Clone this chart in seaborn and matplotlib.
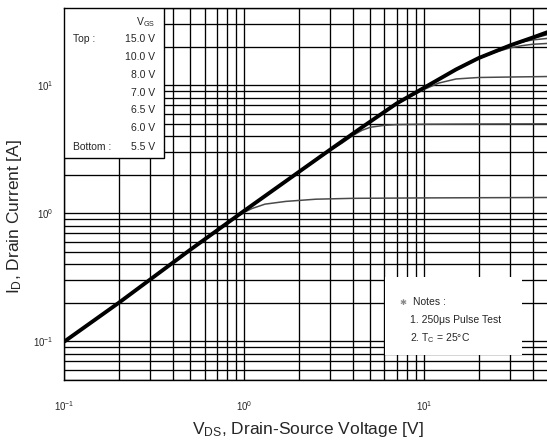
import numpy as np
import pandas as pd
import matplotlib
matplotlib.use("Agg")
import matplotlib.pyplot as plt
import seaborn as sns

# Gate-source voltage settings (top to bottom of the legend)
vgs_labels = ["15.0 V", "10.0 V", "8.0 V", "7.0 V", "6.5 V", "6.0 V", "5.5 V"]

# Output characteristics: drain-source voltage [V] and drain current [A]
vds_15 = [0.1, 0.2, 0.5, 1.0, 2.0, 3.0, 4.5, 7.0, 10.0, 15.0, 20.0, 30.0, 40.0, 48.0, 60.0]
id_15 = [0.1, 0.2, 0.52, 1.05, 2.1, 3.15, 4.7, 7.2, 9.6, 13.3, 16.3, 20.5, 23.6, 25.9, 28.0]

vds_10 = [0.1, 0.2, 0.5, 1.0, 2.0, 3.0, 4.5, 7.0, 10.0, 15.0, 20.0, 30.0, 40.0, 48.0, 60.0]
id_10 = [0.1, 0.2, 0.52, 1.05, 2.1, 3.15, 4.7, 7.2, 9.6, 13.3, 16.3, 20.5, 23.3, 25.0, 26.2]

vds_8 = [0.1, 0.2, 0.5, 1.0, 2.0, 3.0, 4.5, 7.0, 10.0, 15.0, 20.0, 28.0, 35.0, 40.0, 48.0, 60.0]
id_8 = [0.1, 0.2, 0.52, 1.05, 2.1, 3.15, 4.7, 7.2, 9.6, 13.3, 16.3, 19.9, 21.8, 22.6, 23.2, 23.6]

vds_7 = [0.1, 0.2, 0.5, 1.0, 2.0, 3.0, 4.5, 7.0, 10.0, 15.0, 20.0, 25.0, 30.0, 35.0, 40.0, 48.0, 60.0]
id_7 = [0.1, 0.2, 0.52, 1.05, 2.1, 3.15, 4.7, 7.2, 9.6, 13.3, 16.2, 18.2, 19.6, 20.4, 20.9, 21.2, 21.4]

vds_65 = [0.1, 0.2, 0.5, 1.0, 2.0, 3.0, 4.5, 7.0, 8.0, 9.0, 10.0, 12.0, 15.0, 20.0, 30.0, 48.0, 60.0]
id_65 = [0.1, 0.2, 0.52, 1.05, 2.1, 3.15, 4.7, 7.1, 7.9, 8.6, 9.3, 10.4, 11.2, 11.5, 11.6, 11.7, 11.7]

vds_60 = [0.1, 0.2, 0.5, 1.0, 2.0, 3.0, 3.5, 4.0, 4.5, 5.0, 6.0, 7.0, 10.0, 20.0, 48.0, 60.0]
id_60 = [0.1, 0.2, 0.52, 1.05, 2.1, 3.1, 3.55, 4.05, 4.45, 4.7, 4.87, 4.93, 4.96, 4.98, 5.0, 5.0]

vds_55 = [0.1, 0.2, 0.5, 0.9, 1.0, 1.1, 1.3, 1.7, 2.5, 4.0, 10.0, 48.0, 60.0]
id_55 = [0.1, 0.2, 0.52, 0.94, 1.02, 1.09, 1.18, 1.24, 1.29, 1.31, 1.32, 1.33, 1.33]

curves = [
    (vds_15, id_15), (vds_10, id_10), (vds_8, id_8), (vds_7, id_7),
    (vds_65, id_65), (vds_60, id_60), (vds_55, id_55),
]

# Labelled decades
x_decades = [0.1, 1.0, 10.0]
x_tick_labels = [r"$10^{-1}$", r"$10^{0}$", r"$10^{1}$"]
y_decades = [0.1, 1.0, 10.0]
y_tick_labels = [r"$10^{-1}$", r"$10^{0}$", r"$10^{1}$"]

sns.set_style("white")
plt.rcParams["font.family"] = ["Liberation Sans", "DejaVu Sans"]
plt.rcParams["mathtext.fontset"] = "custom"
plt.rcParams["mathtext.rm"] = "Liberation Sans"
plt.rcParams["mathtext.it"] = "Liberation Sans"
plt.rcParams["mathtext.bf"] = "Liberation Sans:bold"

fig = plt.figure(figsize=(5.47, 4.48), dpi=100)
# The plotting area runs past the right edge of the figure (up to 100 V)
ax = fig.add_axes([0.1179, 0.1518, 0.987, 0.830])
ax.set_xscale("log")
ax.set_yscale("log")
ax.set_xlim(0.1, 100)
ax.set_ylim(0.05, 40)

# Dense black grid at every decade subdivision
ax.grid(True, which="both", color="black", linewidth=0.95)
ax.set_axisbelow(True)

styles = {
    "15.0 V": dict(color="black", linewidth=2.8, zorder=6),
    "10.0 V": dict(color="#222222", linewidth=1.6, zorder=5),
}
for label, (v, i) in reversed(list(zip(vgs_labels, curves))):
    df = pd.DataFrame({"VDS": v, "ID": i})
    st = styles.get(label, dict(color="#4a4a4a", linewidth=1.1, zorder=4))
    sns.lineplot(data=df, x="VDS", y="ID", ax=ax, sort=False, estimator=None,
                 color=st["color"], linewidth=st["linewidth"], zorder=st["zorder"])

ax.set_xticks(x_decades)
ax.set_xticklabels(x_tick_labels)
ax.set_yticks(y_decades)
ax.set_yticklabels(y_tick_labels)
ax.tick_params(axis="both", which="both", length=0, labelsize=7)
ax.tick_params(axis="x", pad=14)
ax.tick_params(axis="y", pad=8)

for s in ax.spines.values():
    s.set_color("black")
    s.set_linewidth(1.0)

ax.set_xlabel(r"V$_{DS}$, Drain-Source Voltage [V]", fontsize=12.5)
ax.xaxis.set_label_coords(0.451, -0.108)
ax.set_ylabel(r"I$_{D}$, Drain Current [A]", fontsize=12.5)
ax.yaxis.set_label_coords(-0.075, 0.44)

# Gate-voltage legend box
box = plt.Rectangle((0.0, 0.597), 0.184, 0.403, transform=ax.transAxes,
                    facecolor="white", edgecolor="black", linewidth=1.0, zorder=8)
ax.add_patch(box)
leg_fs = 7.5
row_y = [39, 57, 75, 93, 110, 128, 147]


def px_to_ax(xp, yp):
    return ((xp - 64.5) / 540.0, (380.0 - yp) / 372.0)


tx, ty = px_to_ax(155, 22)
ax.text(tx, ty, r"V$_{GS}$", transform=ax.transAxes, ha="right", va="center",
        fontsize=leg_fs, zorder=9)
for label, yp in zip(vgs_labels, row_y):
    tx, ty = px_to_ax(155, yp)
    ax.text(tx, ty, label, transform=ax.transAxes, ha="right", va="center",
            fontsize=leg_fs, zorder=9)
tx, ty = px_to_ax(73, row_y[0])
ax.text(tx, ty, "Top :", transform=ax.transAxes, ha="left", va="center",
        fontsize=leg_fs, zorder=9)
tx, ty = px_to_ax(73, row_y[-1])
ax.text(tx, ty, "Bottom :", transform=ax.transAxes, ha="left", va="center",
        fontsize=leg_fs, zorder=9)

# Test-condition notes
x0, y0 = px_to_ax(385, 355)
x1, y1 = px_to_ax(522, 277)
ax.add_patch(plt.Rectangle((x0, y0), x1 - x0, y1 - y0, transform=ax.transAxes,
                           facecolor="white", edgecolor="none", zorder=8))
tx, ty = px_to_ax(400, 302)
ax.text(tx, ty, "\u2731", transform=ax.transAxes, ha="left", va="center",
        fontsize=6, color="#888888", zorder=9, family=["DejaVu Sans"])
tx, ty = px_to_ax(413, 302)
ax.text(tx, ty, "Notes :", transform=ax.transAxes, ha="left", va="center",
        fontsize=leg_fs, zorder=9)
tx, ty = px_to_ax(410, 320)
ax.text(tx, ty, "1. 250\u03bcs Pulse Test", transform=ax.transAxes, ha="left",
        va="center", fontsize=leg_fs, zorder=9)
tx, ty = px_to_ax(410, 338)
ax.text(tx, ty, r"2. T$_{C}$ = 25$\degree$C", transform=ax.transAxes, ha="left",
        va="center", fontsize=leg_fs, zorder=9)

fig.savefig("out.png", dpi=100)
